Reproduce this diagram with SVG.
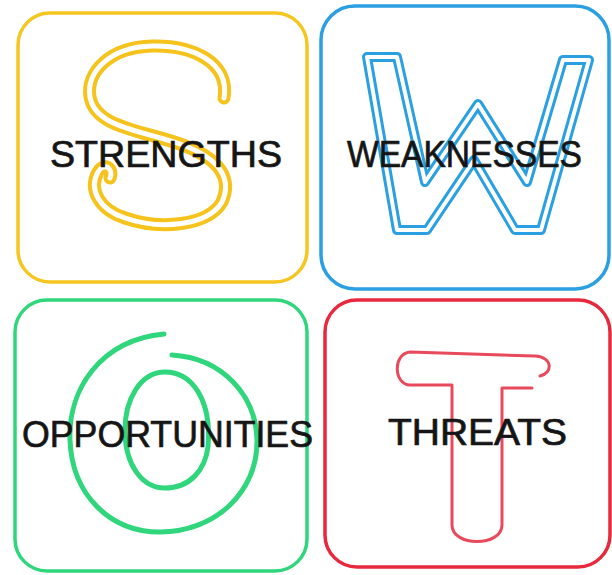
<svg xmlns="http://www.w3.org/2000/svg" width="612" height="575" viewBox="0 0 612 575">
<style>
.box{fill:none;stroke-width:3.5}
.lbl{font-family:"Liberation Sans",Arial,sans-serif;fill:#151515;stroke:#151515;stroke-width:0.7;font-size:37px}
.tube{fill:none;stroke-linecap:round;stroke-linejoin:round}
.inner{fill:none;stroke:#fff;stroke-linecap:round;stroke-linejoin:round}
</style>
<rect width="612" height="575" fill="#fff"/>
<g id="strengths">
<rect class="box" x="18" y="13" width="289" height="269" rx="32" stroke="#f5c520"/>
<path class="tube" stroke="#f6c31d" stroke-width="13" d="M224,98 C230,62 192,45 152,46 C110,47 86,72 90,97 C95,127 140,130 180,144 C222,159 232,180 222,202 C208,226 160,230 125,218 C100,210 88,190 98,172 C104,162 114,168 110,178"/>
<path class="inner" stroke-width="5" d="M224,98 C230,62 192,45 152,46 C110,47 86,72 90,97 C95,127 140,130 180,144 C222,159 232,180 222,202 C208,226 160,230 125,218 C100,210 88,190 98,172 C104,162 114,168 110,178"/>
<text class="lbl" x="50" y="167" textLength="232" lengthAdjust="spacingAndGlyphs">STRENGTHS</text>
</g>
<g id="weaknesses">
<rect class="box" x="321" y="6" width="288" height="283" rx="34" stroke="#2a9fe2"/>
<path class="tube" stroke="#2a9fe2" stroke-width="10" d="M367,57 L397,230 L427,230 L474,160 L515,230 L541,230 L589,60 L563,60 L527,182 L478,104 L425,182 L397,57 Z"/>
<path class="inner" stroke-width="4" d="M367,57 L397,230 L427,230 L474,160 L515,230 L541,230 L589,60 L563,60 L527,182 L478,104 L425,182 L397,57 Z"/>
<text class="lbl" x="347" y="167" textLength="235" lengthAdjust="spacingAndGlyphs">WEAKNESSES</text>
</g>
<g id="opportunities">
<rect class="box" x="15" y="300" width="292" height="271" rx="32" stroke="#2fd67c"/>
<path fill="none" stroke="#2fd67c" stroke-width="5" stroke-linecap="round" d="M164,334 C100,340 68,390 70,440 C72,495 110,532 160,532 C215,532 258,492 257,440 C256,395 222,358 172,355"/>
<path fill="none" stroke="#2fd67c" stroke-width="5" stroke-linecap="round" d="M208,447 C212,400 192,372 165,372 C140,372 125,400 125,430 C125,465 142,488 165,488 C190,488 205,470 208,447"/>
<text class="lbl" x="22" y="447" font-size="34" textLength="291" lengthAdjust="spacingAndGlyphs">OPPORTUNITIES</text>
</g>
<g id="threats">
<rect class="box" x="325" y="300" width="285" height="267" rx="32" stroke="#e8283c"/>
<path fill="none" stroke="#e84a5c" stroke-width="3" stroke-linecap="round" stroke-linejoin="round" d="M532,388 L502,388 L502,525 C502,547 452,547 452,525 L452,385 L410,385 C394,385 392,354 410,352 L535,356 C553,357 553,373 540,376"/>
<text class="lbl" x="388" y="445" textLength="179" lengthAdjust="spacingAndGlyphs">THREATS</text>
</g>
<g id="connectors"></g>
</svg>
